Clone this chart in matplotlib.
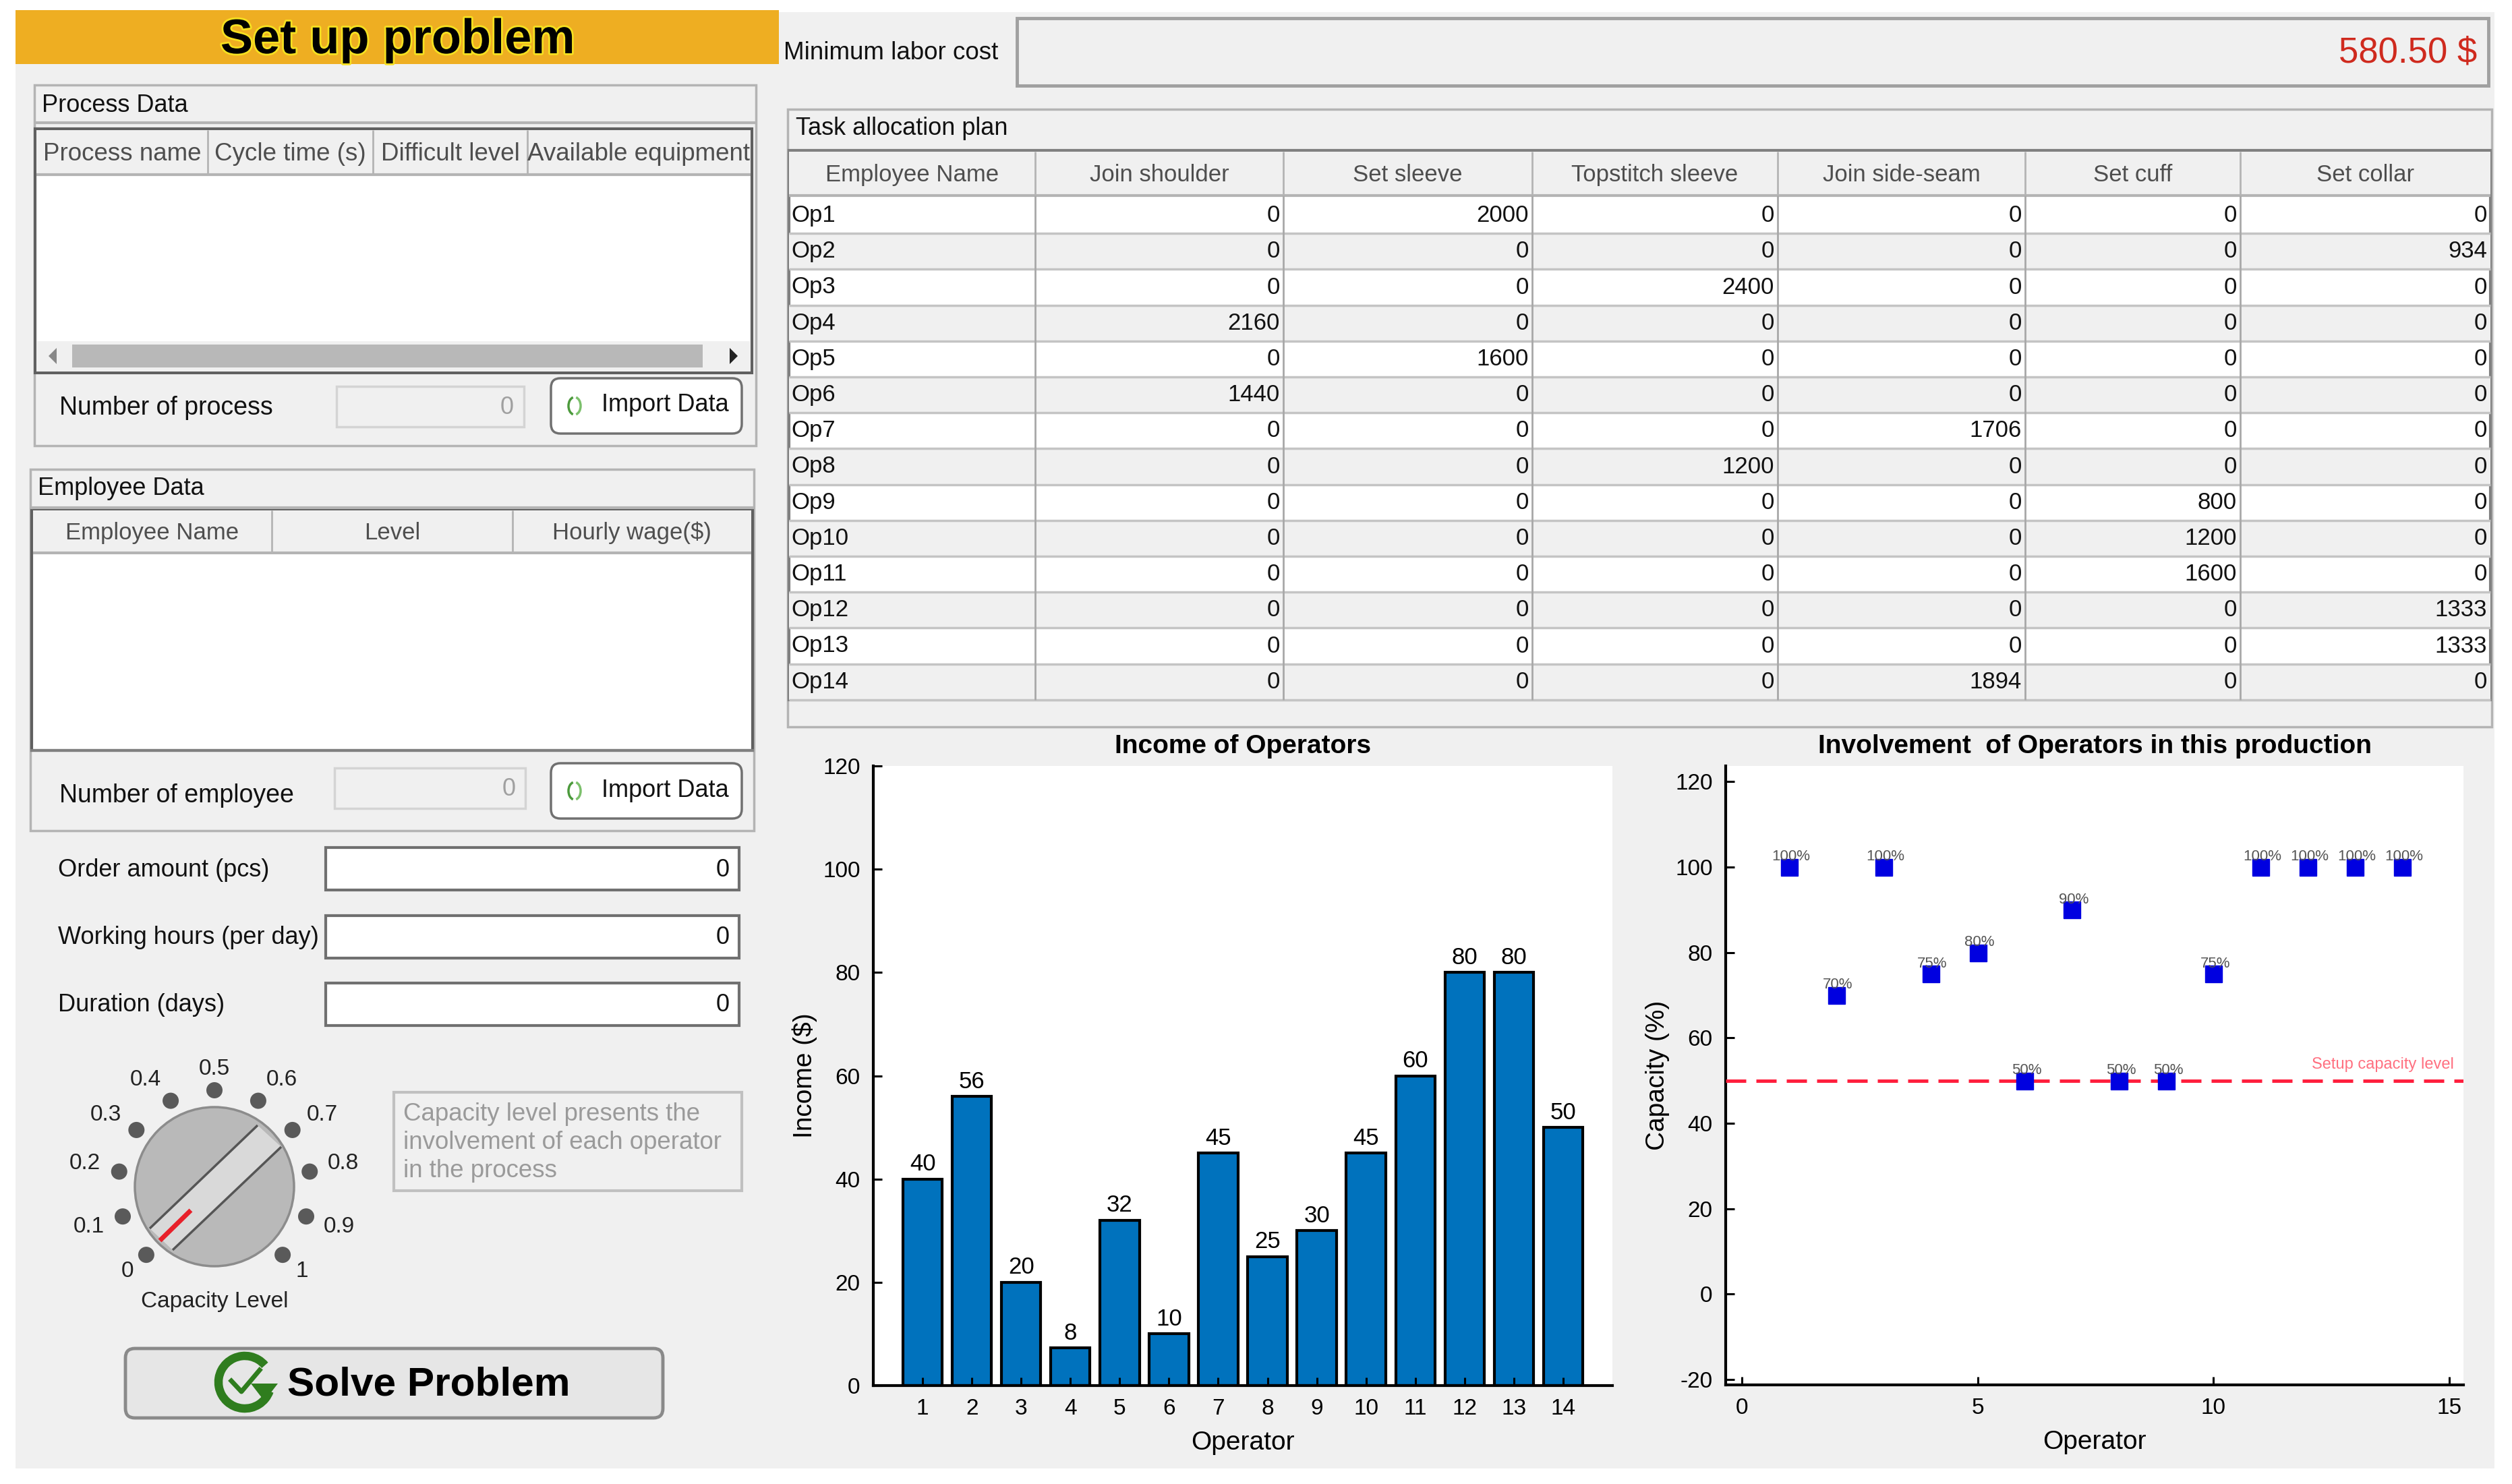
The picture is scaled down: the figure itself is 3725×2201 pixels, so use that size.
import matplotlib
matplotlib.use('Agg')
import numpy as np
import matplotlib.pyplot as plt
import matplotlib.patheffects as pe
from matplotlib.patches import Rectangle, FancyBboxPatch, Circle, Polygon, Arc

W, H = 3725, 2201

# chart data
operators = [1, 2, 3, 4, 5, 6, 7, 8, 9, 10, 11, 12, 13, 14]
income = [40, 56, 20, 7.3, 32, 10, 45, 25, 30, 45, 60, 80, 80, 50]
income_labels = ['40', '56', '20', '8', '32', '10', '45', '25', '30', '45', '60', '80', '80', '50']
capacity = [100, 70, 100, 75, 80, 50, 90, 50, 50, 75, 100, 100, 100, 100]
capacity_labels = ['100%', '70%', '100%', '75%', '80%', '50%', '90%', '50%', '50%', '75%', '100%', '100%', '100%', '100%']
setup_level = 50

# task allocation table
employees = ['Op1', 'Op2', 'Op3', 'Op4', 'Op5', 'Op6', 'Op7', 'Op8', 'Op9', 'Op10', 'Op11', 'Op12', 'Op13', 'Op14']
task_headers = ['Employee Name', 'Join shoulder', 'Set sleeve', 'Topstitch sleeve', 'Join side-seam', 'Set cuff', 'Set collar']
join_shoulder = [0, 0, 0, 2160, 0, 1440, 0, 0, 0, 0, 0, 0, 0, 0]
set_sleeve = [2000, 0, 0, 0, 1600, 0, 0, 0, 0, 0, 0, 0, 0, 0]
topstitch_sleeve = [0, 0, 2400, 0, 0, 0, 0, 1200, 0, 0, 0, 0, 0, 0]
join_side_seam = [0, 0, 0, 0, 0, 0, 1706, 0, 0, 0, 0, 0, 0, 1894]
set_cuff = [0, 0, 0, 0, 0, 0, 0, 0, 800, 1200, 1600, 0, 0, 0]
set_collar = [0, 934, 0, 0, 0, 0, 0, 0, 0, 0, 0, 1333, 1333, 0]

process_headers = ['Process name', 'Cycle time (s)', 'Difficult level', 'Available equipment']
employee_headers = ['Employee Name', 'Level', 'Hourly wage($)']
input_labels = ['Order amount (pcs)', 'Working hours (per day)', 'Duration (days)']
dial_labels = ['0', '0.1', '0.2', '0.3', '0.4', '0.5', '0.6', '0.7', '0.8', '0.9', '1']

PANEL = '#f0f0f0'
EDGE = '#b4b4b4'
DARK = '#707070'

plt.rcParams['font.family'] = ['Liberation Sans', 'DejaVu Sans']
plt.rcParams['axes.unicode_minus'] = False

fig = plt.figure(figsize=(W / 100, H / 100), dpi=100, facecolor='white')
bg = fig.add_axes([0, 0, 1, 1])
bg.set_xlim(0, W)
bg.set_ylim(H, 0)
bg.axis('off')


def box(x0, y0, x1, y1, fc='none', ec=EDGE, lw=2.5, z=1):
    bg.add_patch(Rectangle((x0, y0), x1 - x0, y1 - y0, fc=fc, ec=ec, lw=lw, zorder=z))


def line(x0, y0, x1, y1, c=EDGE, lw=2, z=3):
    bg.plot([x0, x1], [y0, y1], color=c, lw=lw, zorder=z, solid_capstyle='butt')


def label(x, y, s, size=26, c='#111111', ha='left', **kw):
    return bg.text(x, y + 3, s, fontsize=size, color=c, ha=ha, va='center', zorder=5, **kw)


def rounded(x0, y0, x1, y1, fc, ec=DARK, lw=2.5, r=14):
    bg.add_patch(FancyBboxPatch((x0 + r, y0 + r), x1 - x0 - 2 * r, y1 - y0 - 2 * r,
                                boxstyle='round,pad=%d,rounding_size=%d' % (r, r),
                                fc=fc, ec=ec, lw=lw, zorder=2))


def header_row(xs, y0, y1, names, size=25):
    box(xs[0], y0, xs[-1], y1, fc=PANEL, ec='none', z=2)
    clip = Rectangle((xs[0], y0), xs[-1] - xs[0], y1 - y0, transform=bg.transData)
    for i, name in enumerate(names):
        t = bg.text((xs[i] + xs[i + 1]) / 2, (y0 + y1) / 2 + 2, name, fontsize=size, color='#4e4e4e',
                    ha='center', va='center', zorder=5)
        t.set_clip_path(clip)
    for x in xs[1:-1]:
        line(x, y0, x, y1)
    line(xs[0], y1, xs[-1], y1, lw=3)


def import_button(x0, y0, x1, y1):
    rounded(x0, y0, x1, y1, 'white')
    cx, cy = x0 + 35, (y0 + y1) / 2
    bg.add_patch(Arc((cx, cy), 18, 26, theta1=100, theta2=260, ec='#4c9a3c', lw=2.5, zorder=4))
    bg.add_patch(Arc((cx, cy), 18, 26, theta1=-80, theta2=80, ec='#7cc06c', lw=2.5, zorder=4))
    label(x0 + 75, cy - 4, 'Import Data', size=26)


# window background
box(23, 18, 3699, 2178, fc=PANEL, ec='none', z=0)
box(23, 15, 1155, 95, fc='#eeae22', ec='none', z=1)
label(590, 57, 'Set up problem', size=52, ha='center', fontweight='bold', c='black',
      path_effects=[pe.withStroke(linewidth=4, foreground='#f5e020')])

# process data panel
box(51, 126, 1121, 661)
line(51, 182, 1121, 182, lw=3)
label(62, 154, 'Process Data')
box(52, 191, 1115, 553, fc='white', ec='#606060', lw=3, z=1)
header_row([54, 308, 553, 782, 1113], 193, 259, process_headers, size=26.5)
box(54, 506, 1113, 551, fc=PANEL, ec='none', z=2)
box(107, 511, 1042, 545, fc='#b8b8b8', ec='none', z=3)
bg.add_patch(Polygon([[84, 516], [72, 528], [84, 540]], fc='#888888', ec='none', zorder=4))
bg.add_patch(Polygon([[1082, 516], [1094, 528], [1082, 540]], fc='#222222', ec='none', zorder=4))
label(88, 602, 'Number of process', size=27)
box(499, 573, 777, 633, fc=PANEL, ec='#d4d4d4')
label(762, 602, '0', c='#a0a0a0', ha='right')
import_button(817, 561, 1100, 643)

# employee data panel
box(45, 696, 1118, 1232)
line(45, 753, 1118, 753, lw=3)
label(56, 722, 'Employee Data')
box(47, 755, 1116, 1113, fc='white', ec='#606060', lw=3, z=1)
header_row([49, 403, 760, 1114], 757, 820, employee_headers)
line(45, 1113, 1118, 1113, c='#808080', lw=3)
label(88, 1177, 'Number of employee', size=27)
box(496, 1139, 779, 1199, fc=PANEL, ec='#d4d4d4')
label(765, 1168, '0', c='#a0a0a0', ha='right')
import_button(817, 1132, 1100, 1214)

# order inputs
for name, y0 in zip(input_labels, [1257, 1358, 1458]):
    label(86, y0 + 30, name, size=26)
    box(483, y0, 1096, y0 + 63, fc='white', ec=DARK, lw=3)
    label(1082, y0 + 30, '0', ha='right')

# capacity dial, drawn in window pixels
cx, cy, r = 318, 1760, 118
label_xy = [(189, 1886), (132, 1820), (126, 1726), (157, 1653), (216, 1602), (318, 1585),
            (418, 1602), (478, 1653), (509, 1726), (503, 1820), (448, 1886)]
bg.add_patch(Circle((cx, cy), r, fc='#b9b9b9', ec='#8c8c8c', lw=2.5, zorder=2))
bg.add_patch(Polygon([[222, 1822], [382, 1669], [417, 1701], [256, 1854]], fc='#d9d9d9', ec='none', zorder=3))
line(222, 1822, 382, 1669, c='#555555', lw=2.5, z=4)
line(256, 1854, 417, 1701, c='#555555', lw=2.5, z=4)
line(237, 1840, 283, 1795, c='#e8202a', lw=5, z=5)
for i, name in enumerate(dial_labels):
    a = np.deg2rad(225 - 27 * i)
    bg.add_patch(Circle((cx + 143 * np.cos(a), cy - 143 * np.sin(a)), 12, fc='#5a5a5a', ec='none', zorder=3))
    label(label_xy[i][0], label_xy[i][1] - 3, name, size=24, ha='center', c='#222222')
label(318, 1928, 'Capacity Level', size=24, ha='center', c='#222222')

box(584, 1620, 1100, 1766, ec='#c0c0c0', lw=3)
for y, s in zip([1650, 1691, 1733], ['Capacity level presents the', 'involvement of each operator', 'in the process']):
    label(598, y, s, size=26.4, c='#9a9a9a')

# solve button
rounded(186, 2000, 983, 2103, '#e6e6e6', ec='#8a8a8a', lw=3.5)
bg.add_patch(Arc((363, 2050), 78, 78, theta1=20, theta2=320, ec='#2f7d1e', lw=9, zorder=4))
bg.plot([343, 358, 385], [2048, 2064, 2032], color='#2f7d1e', lw=5, zorder=4)
bg.add_patch(Polygon([[372, 2052], [412, 2052], [392, 2078]], fc='#2f7d1e', ec='none', zorder=4))
label(426, 2051, 'Solve Problem', size=43.5, fontweight='bold', c='black')

# minimum labor cost
label(1162, 76, 'Minimum labor cost', size=26.5)
box(1508, 27, 3690, 127, ec='#a0a0a0', lw=3.5)
label(3673, 76, '580.50 $', size=38, c='#cf2a1e', ha='right')

# task allocation table
box(1168, 162, 3695, 1078)
label(1180, 188, 'Task allocation plan', size=26)
col_x = [1170, 1535, 1903, 2272, 2636, 3003, 3322, 3693]
row_h = 53.2
row_top = 293
box(col_x[0], 223, col_x[-1], row_top + 14 * row_h, fc='white', ec='#808080', lw=3, z=1)
header_row(col_x, 225, 290, task_headers)
columns = [join_shoulder, set_sleeve, topstitch_sleeve, join_side_seam, set_cuff, set_collar]
for i, name in enumerate(employees):
    y0 = row_top + i * row_h
    if i % 2 == 1:
        box(col_x[0], y0, col_x[-1], y0 + row_h, fc=PANEL, ec='none', z=2)
    line(col_x[0], y0 + row_h, col_x[-1], y0 + row_h, c='#c4c4c4', lw=2.5)
    label(col_x[0] + 3, y0 + row_h / 2 - 3, name, size=25)
    for j, col in enumerate(columns):
        label(col_x[j + 2] - 5, y0 + row_h / 2 - 3, str(col[i]), size=25, ha='right')
for x in col_x[1:-1]:
    line(x, 290, x, row_top + 14 * row_h, c='#a8a8a8')


def chart_axes(x0, y0, x1, y1):
    ax = fig.add_axes([x0 / W, 1 - y1 / H, (x1 - x0) / W, (y1 - y0) / H], facecolor='white')
    ax.spines['top'].set_visible(False)
    ax.spines['right'].set_visible(False)
    ax.spines['left'].set_linewidth(3)
    ax.spines['bottom'].set_linewidth(3)
    ax.tick_params(direction='in', length=9, width=2.2, labelsize=24, pad=14)
    ax.set_xlabel('Operator', fontsize=28, labelpad=12)
    return ax


# income bars
ax1 = chart_axes(1295, 1136, 2391, 2055)
bars = ax1.bar(operators, income, width=0.8, color='#0072bd', edgecolor='black', linewidth=3)
ax1.bar_label(bars, labels=income_labels, fontsize=25, padding=4)
ax1.set_xlim(0, 15)
ax1.set_ylim(0, 120)
ax1.set_xticks(operators)
ax1.set_yticks(range(0, 121, 20))
ax1.set_ylabel('Income ($)', fontsize=28, labelpad=6)
ax1.set_title('Income of Operators', fontsize=28, fontweight='bold', pad=14)

# capacity of each operator
ax2 = chart_axes(2559, 1136, 3653, 2054)
ax2.axhline(setup_level, color='#ff1f3d', lw=3.6, dashes=(6, 3), zorder=3)
ax2.plot(operators, capacity, 's', color='#0000e0', ms=18, zorder=4)
for x, y, s in zip(operators, capacity, capacity_labels):
    ax2.annotate(s, (x, y), xytext=(2, 11), textcoords='offset points', ha='center', va='center',
                 fontsize=16, color='#555555', zorder=5)
ax2.text(15.1, setup_level + 3.7, 'Setup capacity level', fontsize=17, color='#ff7080', ha='right', va='center')
ax2.set_xlim(-0.34, 15.3)
ax2.set_ylim(-21.3, 123.7)
ax2.set_xticks([0, 5, 10, 15])
ax2.set_yticks(range(-20, 121, 20))
ax2.set_ylabel('Capacity (%)', fontsize=28, labelpad=6)
ax2.set_title('Involvement  of Operators in this production', fontsize=28, fontweight='bold', pad=14)

fig.savefig('out.png', dpi=100, facecolor='white')
